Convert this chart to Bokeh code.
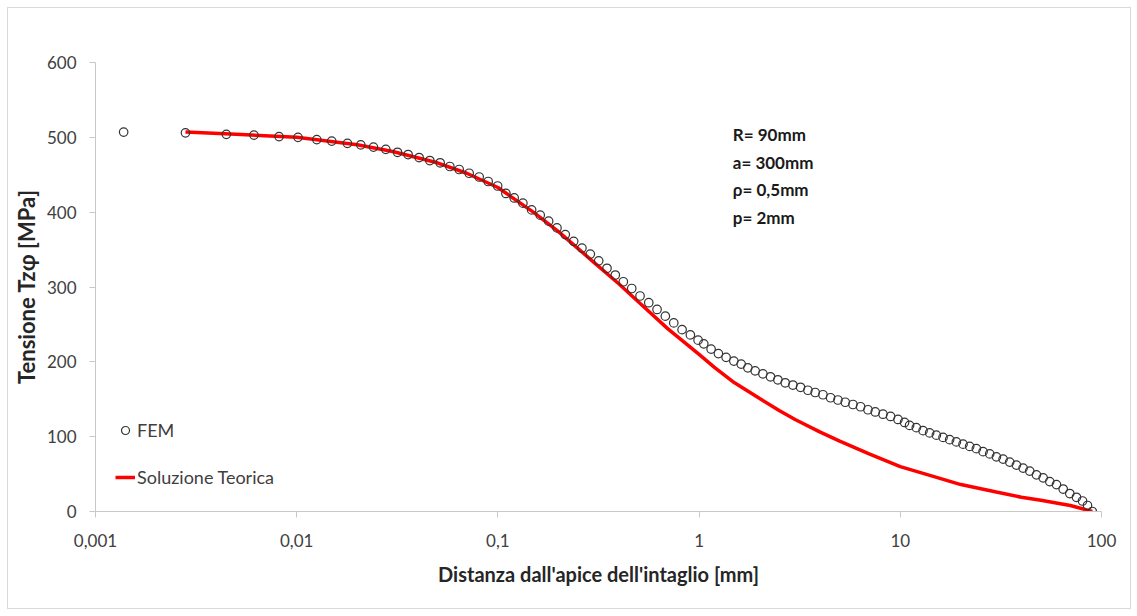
from bokeh.plotting import figure
from bokeh.models import Range1d, FixedTicker, CustomJSTickFormatter, Label
from bokeh.embed import file_html
from bokeh.resources import INLINE

# ---- data ----
fem_x = [0.00138, 0.00280, 0.00447, 0.00613, 0.00817, 0.01015, 0.01258, 0.01493, 0.01787, 0.02082,
         0.02407, 0.02772, 0.0317, 0.03578, 0.04059, 0.04588, 0.05163, 0.0577, 0.0642, 0.07196,
         0.08072, 0.08948, 0.0997, 0.1096, 0.1205, 0.1331, 0.1471, 0.1623, 0.1787, 0.1966,
         0.2162, 0.238, 0.2617, 0.2879, 0.317, 0.3485, 0.3833, 0.4202, 0.4626, 0.5087,
         0.5621, 0.618, 0.6797, 0.7482, 0.8232, 0.905, 0.9886, 1.055, 1.147, 1.247,
         1.362, 1.488, 1.618, 1.747, 1.899, 2.075, 2.263, 2.463, 2.679, 2.926,
         3.192, 3.473, 3.776, 4.125, 4.5, 4.898, 5.325, 5.817, 6.346, 6.908,
         7.508, 8.203, 8.948, 9.741, 10.5, 11.12, 12.01, 12.97, 13.99, 15.11,
         16.31, 17.59, 18.99, 20.5, 22.12, 23.88, 25.78, 27.82, 30.04, 32.43,
         34.98, 37.76, 40.77, 43.98, 47.49, 51.29, 55.31, 59.73, 64.49, 69.56,
         75.08, 80.46, 85.18, 90.0]
fem_y = [507, 506, 504, 503, 501, 500, 497, 495, 492, 490,
         487, 484, 480, 477, 473, 469, 466, 461, 457, 452,
         447, 441, 435, 425, 419, 412, 403, 396, 388, 379,
         370, 361, 352, 344, 335, 325, 316, 307, 298, 288,
         279, 270, 261, 252, 243, 236, 229, 224, 217, 211,
         206, 201, 197, 192, 188, 184, 180, 176, 172, 169,
         166, 162, 159, 156, 152, 149, 146, 143, 140, 136,
         133, 130, 127, 123, 119, 115, 112, 108, 105, 102,
         99, 96, 93, 90, 87, 84, 80, 77, 73, 70,
         66, 62, 58, 54, 49, 45, 40, 36, 30, 24,
         19, 14, 8, 0]

theo_x = [0.0028, 0.005, 0.01, 0.02, 0.03, 0.05, 0.07, 0.1, 0.15, 0.2, 0.3, 0.4, 0.5, 0.7,
          1.0, 1.2, 1.5, 2.0, 2.5, 3.0, 4.0, 5.0, 7.0, 10.0, 15.0, 20.0, 30.0, 40.0, 50.0, 70.0, 90.0]
theo_y = [507, 504, 500, 490, 481, 466, 452, 433, 400, 374, 333, 304, 280, 244,
          210, 192, 172, 151, 135, 123, 106, 94, 77, 60, 46, 36, 26, 19, 15, 8, 0]

x_ticks = [0.001, 0.01, 0.1, 1, 10, 100]
y_ticks = [0, 100, 200, 300, 400, 500, 600]

params = ["R= 90mm", "a= 300mm", "\u03c1= 0,5mm", "p= 2mm"]
params_y = [504, 467, 430, 393]
params_x = 1.47

FONT = "Lato"
TXT = "#404040"

p = figure(width=1124, height=602, x_axis_type="log",
           x_range=Range1d(0.001, 100), y_range=Range1d(0, 600),
           output_backend="svg", toolbar_location=None,
           min_border_left=87, min_border_right=31, min_border_top=54, min_border_bottom=99)
p.styles = {"margin-left": "7px", "margin-top": "7px", "border": "1px solid #d9d9d9"}
p.outline_line_color = None
p.grid.visible = False
p.background_fill_color = "white"
p.border_fill_color = "white"

# theoretical solution
p.line(theo_x, theo_y, line_color="#ff0000", line_width=3.5, legend_label="Soluzione Teorica")
# FEM points
p.scatter(fem_x, fem_y, marker="circle", size=8.5, fill_color=None,
          line_color="#333333", line_width=1.2, legend_label="FEM")

# axes
for ax in (p.xaxis[0], p.yaxis[0]):
    ax.axis_line_color = "#c8c8c8"
    ax.major_tick_line_color = "#c8c8c8"
    ax.major_tick_out = 6
    ax.major_tick_in = 0
    ax.minor_tick_line_color = None
    ax.major_label_text_font = FONT
    ax.major_label_text_font_size = "17px"
    ax.major_label_text_color = TXT
    ax.axis_label_text_font = FONT
    ax.axis_label_text_font_style = "bold"
    ax.axis_label_text_color = "#262626"

p.xaxis.ticker = FixedTicker(ticks=x_ticks, minor_ticks=[])
p.xaxis.formatter = CustomJSTickFormatter(code="return String(tick).replace('.', ',');")
p.xaxis.axis_label = "Distanza dall'apice dell'intaglio [mm]"
p.xaxis.axis_label_text_font_size = "20px"
p.xaxis.major_label_standoff = 16
p.xaxis.axis_label_standoff = 12

p.yaxis.ticker = FixedTicker(ticks=y_ticks, minor_ticks=[])
p.yaxis.axis_label = "Tensione Tz\u03c6 [MPa]"
p.yaxis.axis_label_text_font_size = "22px"
p.yaxis.major_label_standoff = 13
p.yaxis.axis_label_standoff = 4

# parameter annotations
for t, yv in zip(params, params_y):
    p.add_layout(Label(x=params_x, y=yv, text=t, text_font=FONT, text_font_size="17px",
                       text_font_style="bold", text_color="#1a1a1a", text_baseline="middle"))

# legend
lg = p.legend[0]
lg.items = list(reversed(lg.items))
lg.location = (20, 23)
lg.padding = 0
lg.margin = 0
lg.spacing = 25
lg.glyph_width = 20
lg.glyph_height = 20
lg.label_height = 20
lg.label_standoff = 2
lg.label_text_font = FONT
lg.label_text_font_size = "18px"
lg.label_text_color = TXT
lg.border_line_color = None
lg.background_fill_alpha = 0

open("out.html", "w").write(file_html(p, INLINE))
